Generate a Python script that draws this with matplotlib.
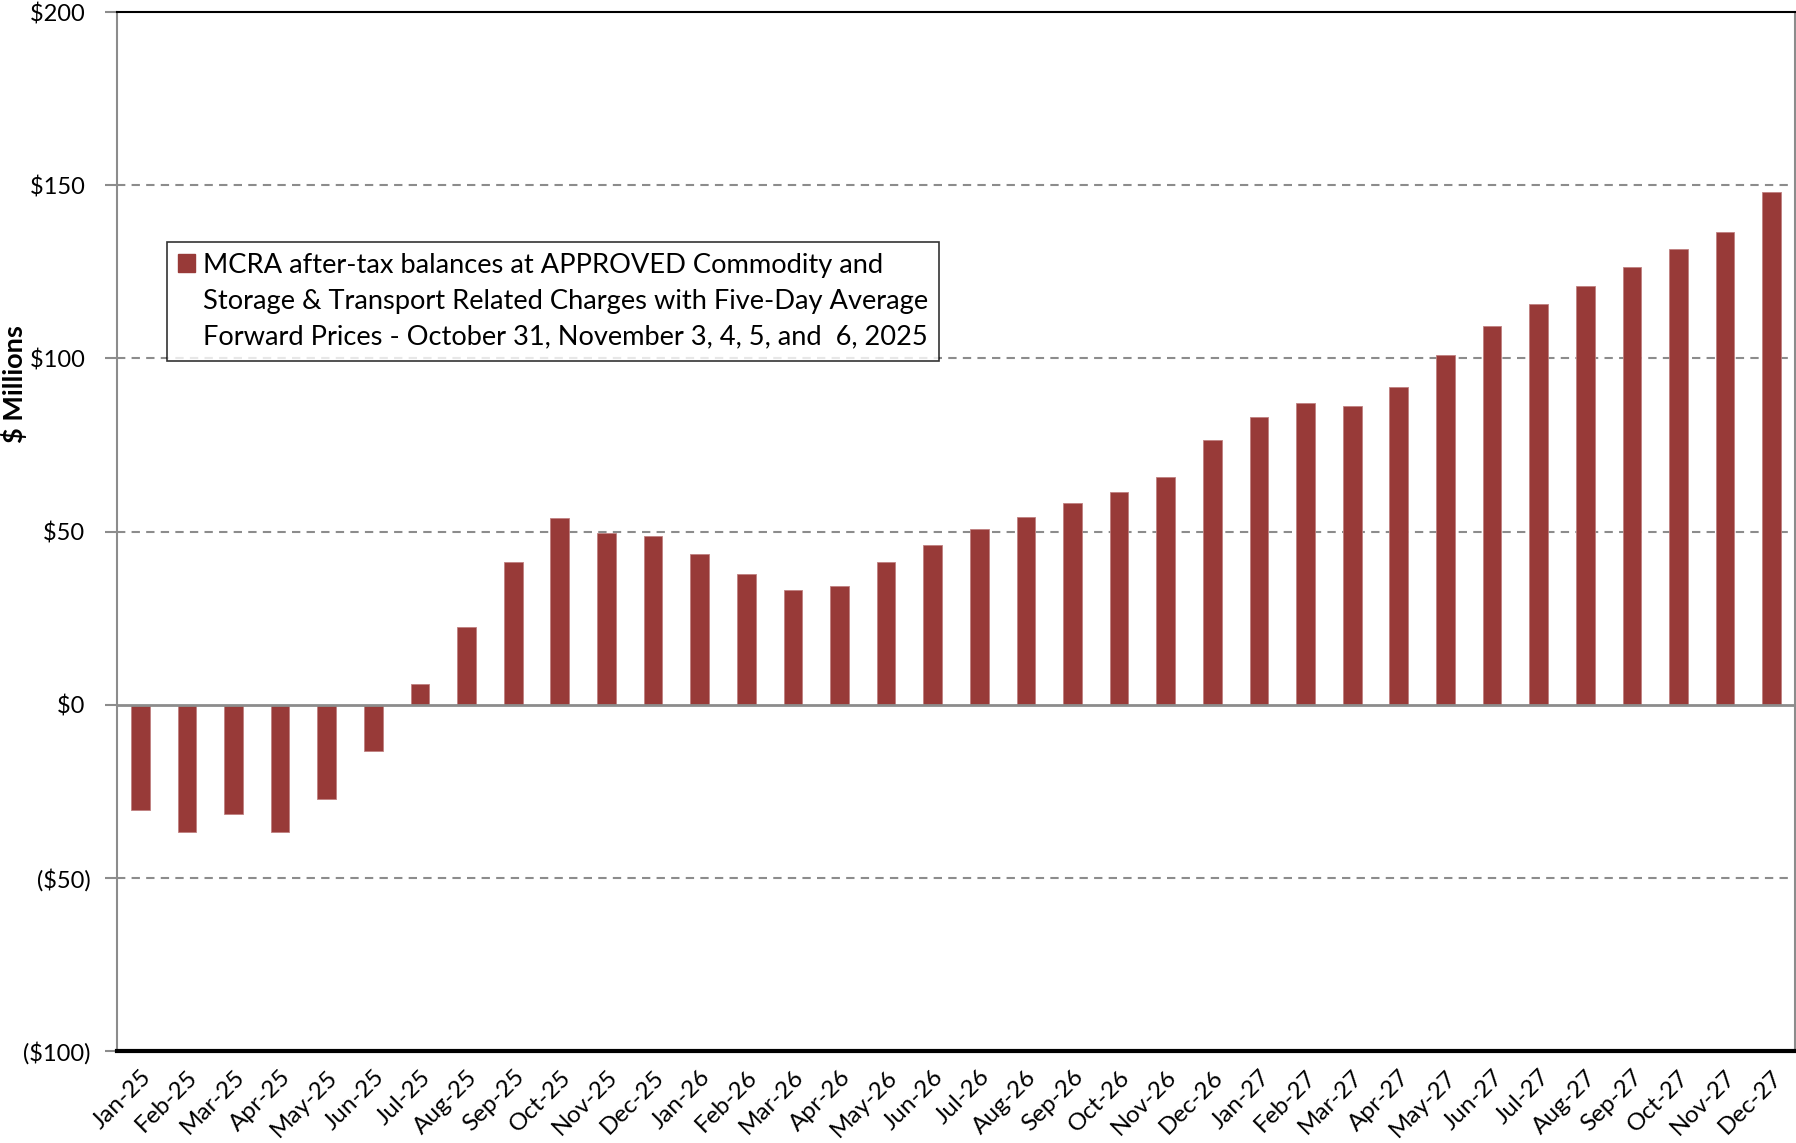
import numpy as np
import matplotlib
matplotlib.use("Agg")
import matplotlib.pyplot as plt
from matplotlib.patches import Patch

# MCRA after-tax balances, $ millions
months = ["Jan-25", "Feb-25", "Mar-25", "Apr-25", "May-25", "Jun-25",
          "Jul-25", "Aug-25", "Sep-25", "Oct-25", "Nov-25", "Dec-25",
          "Jan-26", "Feb-26", "Mar-26", "Apr-26", "May-26", "Jun-26",
          "Jul-26", "Aug-26", "Sep-26", "Oct-26", "Nov-26", "Dec-26",
          "Jan-27", "Feb-27", "Mar-27", "Apr-27", "May-27", "Jun-27",
          "Jul-27", "Aug-27", "Sep-27", "Oct-27", "Nov-27", "Dec-27"]
balances = [-30.5, -36.8, -31.5, -36.8, -27.1, -13.4,
            6.0, 22.5, 41.1, 54.0, 49.7, 48.7,
            43.4, 37.7, 33.1, 34.4, 41.1, 46.0,
            50.7, 54.3, 58.3, 61.3, 65.6, 76.5,
            83.1, 87.1, 86.1, 91.7, 101.1, 109.4,
            115.6, 120.9, 126.5, 131.5, 136.4, 148.0]
yticks = [-100, -50, 0, 50, 100, 150, 200]
ytick_labels = ["($100)", "($50)", "$0 ", "$50 ", "$100 ", "$150 ", "$200 "]
legend_lines = ["MCRA after-tax balances at APPROVED Commodity and",
                "Storage & Transport Related Charges with Five-Day Average",
                "Forward Prices - October 31, November 3, 4, 5, and  6, 2025"]

plt.rcParams['font.family'] = ['Lato', 'DejaVu Sans']
fs = 17

fig = plt.figure(figsize=(17.96, 11.43), dpi=100)
ax = fig.add_axes([117/1796, 1 - 1051/1143, (1795 - 117)/1796, (1051 - 12)/1143])

x = np.arange(len(months))
bars = ax.bar(x, balances, width=0.4, color="#983A38", edgecolor="#C08080",
              linewidth=0.6, zorder=3)

ax.set_xlim(-0.5, len(months) - 0.5)
ax.set_ylim(-100, 200)

# dashed grid lines (not on the 0 / edges)
for g in [-50, 50, 100, 150]:
    ax.axhline(g, color="#8C8C8C", linestyle=(0, (4, 3)), linewidth=1.5, zorder=1)
ax.axhline(0, color="#8C8C8C", linewidth=2, zorder=4)

ax.set_yticks(yticks)
ax.set_yticklabels(ytick_labels, fontsize=fs)
ax.tick_params(axis="y", length=9, width=1.5, color="#8C8C8C", pad=10)

ax.set_xticks(x)
ax.set_xticklabels(months, fontsize=17.5, rotation=45, ha="right",
                   rotation_mode="anchor")
ax.tick_params(axis="x", length=0, pad=11)

for s in ["left", "right"]:
    ax.spines[s].set_color("#8C8C8C")
    ax.spines[s].set_linewidth(1.5)
ax.spines["top"].set_color("black")
ax.spines["top"].set_linewidth(1.5)
ax.spines["bottom"].set_color("black")
ax.spines["bottom"].set_linewidth(3)

fig.text(14/1796, 1 - 384/1143, "$ Millions", rotation=90, fontsize=19.5,
         fontweight="bold", ha="center", va="center")

# legend: bar swatch on the first line only
handles = [Patch(facecolor="#983A38", edgecolor="#983A38"),
           Patch(visible=False), Patch(visible=False)]
leg = ax.legend(handles, legend_lines, loc="upper left",
                bbox_to_anchor=((167 - 117)/1678, (1051 - 242)/1039),
                fontsize=19.6, frameon=True, fancybox=False, handlelength=0.62,
                handleheight=0.62, handletextpad=0.3, borderpad=0.4,
                labelspacing=0.4, borderaxespad=0)
leg.get_frame().set_edgecolor("black")
leg.get_frame().set_linewidth(1.2)

fig.savefig("out.png", dpi=100)
